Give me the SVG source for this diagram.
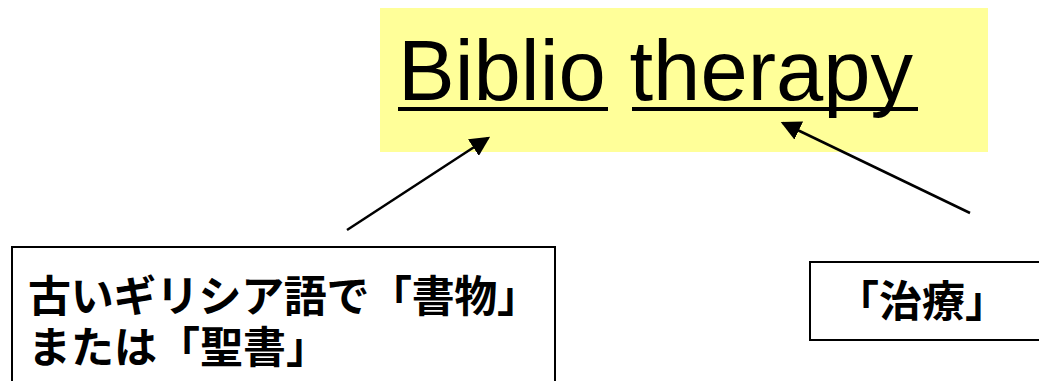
<svg xmlns="http://www.w3.org/2000/svg" width="1039" height="381" viewBox="0 0 1039 381">
<style>
.jp{font-family:"Noto Sans CJK JP","Noto Sans CJK SC",sans-serif;font-weight:bold;font-size:43px;fill:#000}
.box{fill:#fff;stroke:#000;stroke-width:2}
.conn{stroke:#000;stroke-width:2.5;fill:none}
</style>
<defs>
<marker id="ah" markerWidth="8" markerHeight="8" refX="7" refY="4" orient="auto" markerUnits="strokeWidth">
<path d="M0,0 L8,4 L0,8 z" fill="#000"/>
</marker>
</defs>
<g id="title">
<rect x="380" y="8" width="608" height="144" fill="#ffff99"/>
<text x="398" y="100" font-family="Liberation Sans, Arial, sans-serif" font-size="85" fill="#000">Biblio therapy</text>
<line x1="398" y1="109" x2="608" y2="109" stroke="#000" stroke-width="4"/>
<line x1="632" y1="109" x2="918" y2="109" stroke="#000" stroke-width="4"/>
</g>
<g id="connectors">
<line class="conn" x1="347" y1="230" x2="488" y2="138" marker-end="url(#ah)"/>
<line class="conn" x1="970" y1="213" x2="783" y2="123" marker-end="url(#ah)"/>
</g>
<g id="left-node">
<rect class="box" x="12" y="247" width="543" height="150"/>
<text class="jp"><tspan x="28" y="312" textLength="512" lengthAdjust="spacing">古いギリシア語で「書物」</tspan><tspan x="28" y="363">または「聖書」</tspan></text>
</g>
<g id="right-node">
<rect class="box" x="810" y="262" width="240" height="78"/>
<text class="jp" x="922" y="317" text-anchor="middle">「治療」</text>
</g>
</svg>
